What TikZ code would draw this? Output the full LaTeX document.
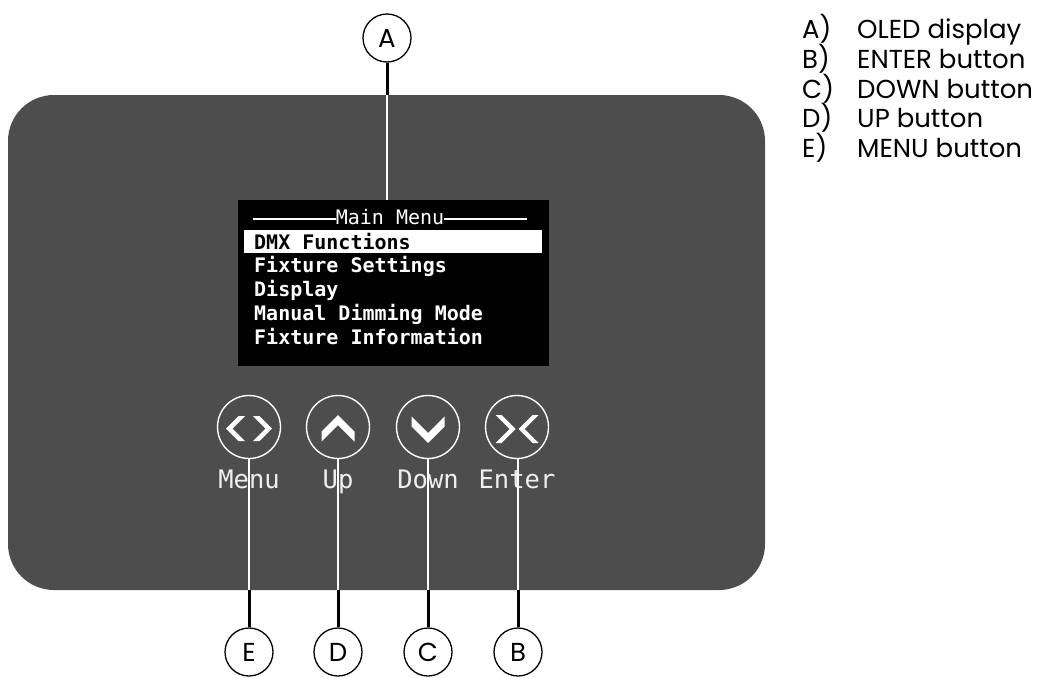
\documentclass[tikz,border=0pt]{standalone}
\usepackage{fontspec}
\setmainfont{Poppins}
\newfontfamily\dispmono{DejaVu Sans Mono}
\definecolor{panelgray}{HTML}{4D4D4D}
\definecolor{labelwhite}{HTML}{EEEEEE}
\begin{document}
\begin{tikzpicture}[x=1pt,y=-1pt,
  callout/.style={circle, draw=black, line width=1.3pt, fill=white, minimum size=48pt, inner sep=0pt, font=\fontsize{26}{26}\selectfont},
  btn/.style={circle, draw=white, line width=1.4pt, minimum size=63pt, inner sep=0pt},
  btnlabel/.style={anchor=base, inner sep=0pt, text=labelwhite, font=\dispmono\fontsize{25.5}{25.5}\selectfont},
  menutext/.style={anchor=base west, inner sep=0pt, text=white, font=\dispmono\bfseries\fontsize{20}{20}\selectfont},
  legend/.style={anchor=base west, inner sep=0pt, font=\fontsize{26}{26}\selectfont},
  outline/.style={black, line width=3pt},
  inline/.style={white, line width=2pt},
  icon/.style={fill=white}
]
\useasboundingbox (0,0) rectangle (1040,677);
% panel
\fill[panelgray, rounded corners=46pt] (8,95) rectangle (765,590);
% display
\node[fill=black, anchor=north west, minimum width=311pt, minimum height=166pt, inner sep=0pt] (disp) at (238,200) {};
\node[fill=white, anchor=north west, minimum width=298pt, minimum height=23pt, inner sep=0pt] (hl) at (244,230) {};
\node[anchor=base, inner sep=0pt, text=white, font=\dispmono\fontsize{20}{20}\selectfont] (title) at (390,224) {Main Menu};
\coordinate (tl1) at (253,219);
\coordinate (tr1) at (527,219);
\draw[white, line width=1.3pt] (tl1) -- (title.west |- tl1);
\draw[white, line width=1.3pt] (title.east |- tr1) -- (tr1);
\node[menutext, text=black] (m1) at (254,249) {DMX Functions};
\node[menutext] (m2) at (254,272) {Fixture Settings};
\node[menutext] (m3) at (254,296) {Display};
\node[menutext] (m4) at (254,320) {Manual Dimming Mode};
\node[menutext] (m5) at (254,344) {Fixture Information};
% callout A
\node[callout] (A) at (387,38) {A};
\coordinate (Ap) at (387,95);
\draw[outline] (A) -- (Ap);
\draw[white, line width=2.5pt] (Ap) -- (A |- disp.north);
% buttons
\node[btn] (bM) at (249,427) {};
\node[btn] (bU) at (338,427) {};
\node[btn] (bD) at (428,427) {};
\node[btn] (bE) at (517,427) {};
% icons
\begin{scope}[shift={(249,428.5)}]
  \fill[icon] (-23,0) -- (-10.5,-12.5) -- (-4,-12.5) -- (-16.5,0) -- (-4,12.5) -- (-10.5,12.5) -- cycle;
  \fill[icon] (23,0) -- (10.5,-12.5) -- (4,-12.5) -- (16.5,0) -- (4,12.5) -- (10.5,12.5) -- cycle;
\end{scope}
\begin{scope}[shift={(338,428)}]
  \fill[icon] (0,-13) -- (16.5,3.5) -- (16.5,13.5) -- (0,-3) -- (-16.5,13.5) -- (-16.5,3.5) -- cycle;
\end{scope}
\begin{scope}[shift={(428,430)}]
  \fill[icon] (0,13) -- (16.5,-3.5) -- (16.5,-13.5) -- (0,3) -- (-16.5,-13.5) -- (-16.5,-3.5) -- cycle;
\end{scope}
\begin{scope}[shift={(517,429)}]
  \fill[icon] (-1.5,0) -- (-15.5,-14) -- (-21.5,-14) -- (-7.5,0) -- (-21.5,14) -- (-15.5,14) -- cycle;
  \fill[icon] (1.5,0) -- (15.5,-14) -- (21.5,-14) -- (7.5,0) -- (21.5,14) -- (15.5,14) -- cycle;
\end{scope}
% button labels
\node[btnlabel] (lM) at (249,488) {Menu};
\node[btnlabel] (lU) at (338,488) {Up};
\node[btnlabel] (lD) at (428,488) {Down};
\node[btnlabel] (lE) at (517,488) {Enter};
% bottom callouts
\node[callout] (E) at (249,652) {E};
\node[callout] (D) at (338,652) {D};
\node[callout] (C) at (428,652) {C};
\node[callout] (B) at (518,652) {B};
\coordinate (Ep) at (249,590);
\coordinate (Dp) at (338,590);
\coordinate (Cp) at (428,590);
\coordinate (Bp) at (518,590);
\draw[inline] (bM.south -| Ep) -- (Ep);
\draw[inline] (bU.south -| Dp) -- (Dp);
\draw[inline] (bD.south -| Cp) -- (Cp);
\draw[inline] (bE.south -| Bp) -- (Bp);
\draw[outline] (Ep) -- (E);
\draw[outline] (Dp) -- (D);
\draw[outline] (Cp) -- (C);
\draw[outline] (Bp) -- (B);
% legend
\node[legend] (la) at (802,38) {A)};
\node[legend] (lb) at (802,68) {B)};
\node[legend] (lc) at (802,98) {C)};
\node[legend] (ld) at (802,127) {D)};
\node[legend] (le) at (802,157) {E)};
\node[legend] (ta) at (857,38) {OLED display};
\node[legend] (tb) at (857,68) {ENTER button};
\node[legend] (tc) at (857,98) {DOWN button};
\node[legend] (td) at (857,127) {UP button};
\node[legend] (te) at (857,157) {MENU button};
\end{tikzpicture}
\end{document}
